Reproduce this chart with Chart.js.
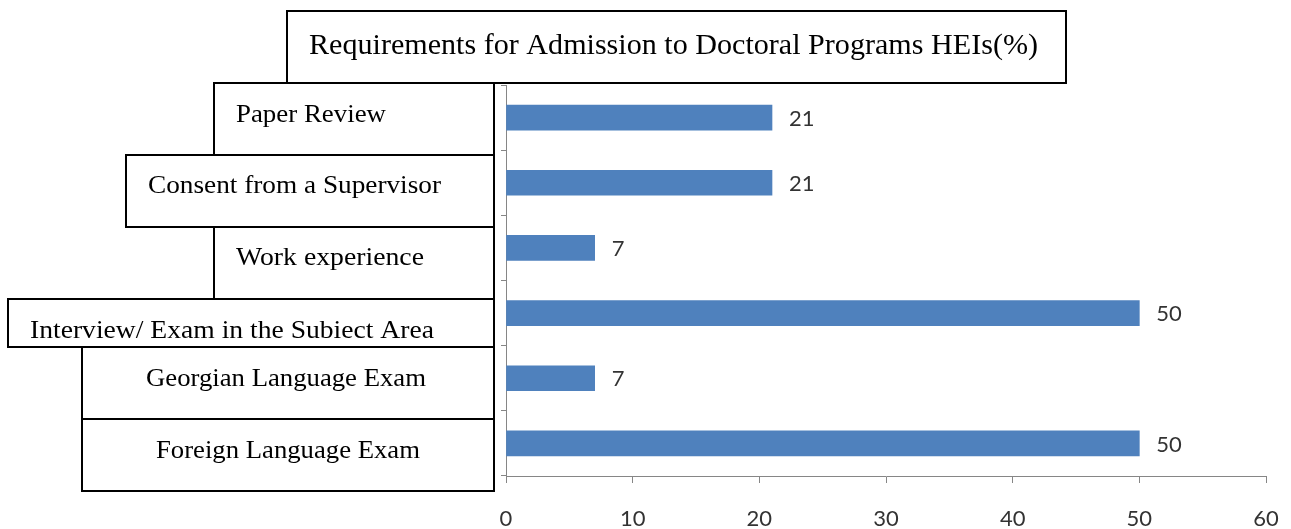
<!DOCTYPE html>
<html>
<head>
<meta charset="utf-8">
<script src="https://cdn.jsdelivr.net/npm/chart.js@4.4.1/dist/chart.umd.min.js"></script>
<style>
  html, body { margin: 0; padding: 0; background: #ffffff; }
  #wrap { width: 1291px; height: 529px; }
</style>
</head>
<body>
<div id="wrap"><canvas id="c" width="1291" height="529"></canvas></div>
<script>
// ---- data ----
const TITLE = 'Requirements for Admission to Doctoral Programs HEIs(%)';
const categories = [
  'Paper Review',
  'Consent from a Supervisor',
  'Work experience',
  'Interview/ Exam in the Subiect Area',
  'Georgian Language Exam',
  'Foreign Language Exam'
];
const values = [21, 21, 7, 50, 7, 50];
const xTickValues = [0, 10, 20, 30, 40, 50, 60];

// ---- layout of the boxed labels (decoration, not data) ----
const titleBox = { x0: 287, y0: 11, x1: 1066, y1: 83, tx0: 309, tx1: 1038, base: 54, size: 30 };
const labelBoxes = [
  { x0: 214, y0: 83,  x1: 494, y1: 155, tx0: 236, tx1: 386, base: 122 },
  { x0: 126, y0: 155, x1: 494, y1: 227, tx0: 148, tx1: 441, base: 193 },
  { x0: 214, y0: 227, x1: 494, y1: 299, tx0: 236, tx1: 424, base: 265 },
  { x0: 8,   y0: 299, x1: 494, y1: 347, tx0: 30,  tx1: 434, base: 338 },
  { x0: 82,  y0: 347, x1: 494, y1: 419, tx0: 146, tx1: 426, base: 386 },
  { x0: 82,  y0: 419, x1: 494, y1: 491, tx0: 156, tx1: 420, base: 458 }
];
const SERIF = '"Liberation Serif", "DejaVu Serif", serif';
const SANS = 'Lato, "Open Sans", "Liberation Sans", sans-serif';
const AXIS_GREY = '#868686';
const TEXT_GREY = '#333333';

function fitText(ctx, text, x0, x1, base, size) {
  ctx.save();
  ctx.font = size + 'px ' + SERIF;
  ctx.fillStyle = '#000000';
  ctx.textAlign = 'left';
  ctx.textBaseline = 'alphabetic';
  const w = ctx.measureText(text).width;
  const sx = (x1 - x0) / w;
  ctx.translate(x0, base);
  ctx.scale(sx, 1);
  ctx.fillText(text, 0, 0);
  ctx.restore();
}

const boxesPlugin = {
  id: 'boxes',
  afterDraw(chart) {
    const ctx = chart.ctx;
    ctx.save();
    ctx.strokeStyle = '#000000';
    ctx.lineWidth = 2;
    const all = [titleBox].concat(labelBoxes);
    all.forEach(b => {
      ctx.strokeRect(b.x0, b.y0, b.x1 - b.x0, b.y1 - b.y0);
    });
    ctx.restore();
    fitText(ctx, TITLE, titleBox.tx0, titleBox.tx1, titleBox.base, titleBox.size);
    labelBoxes.forEach((b, i) => {
      fitText(ctx, categories[i], b.tx0, b.tx1, b.base, 25);
    });
  }
};

const valueLabels = {
  id: 'valueLabels',
  afterDatasetsDraw(chart) {
    const ctx = chart.ctx;
    const meta = chart.getDatasetMeta(0);
    ctx.save();
    ctx.font = '22px ' + SANS;
    ctx.fillStyle = TEXT_GREY;
    ctx.textAlign = 'left';
    ctx.textBaseline = 'middle';
    meta.data.forEach((bar, i) => {
      ctx.fillText(String(values[i]), bar.x + 17, bar.y + 1);
    });
    ctx.restore();
  }
};

new Chart(document.getElementById('c'), {
  type: 'bar',
  data: {
    labels: categories,
    datasets: [{
      data: values,
      backgroundColor: '#4F81BD',
      borderWidth: 0,
      barThickness: 25
    }]
  },
  options: {
    indexAxis: 'y',
    responsive: false,
    animation: false,
    devicePixelRatio: 1,
    layout: { padding: { left: 501, right: 25, top: 85, bottom: 0 } },
    plugins: {
      legend: { display: false },
      title: { display: false },
      tooltip: { enabled: false }
    },
    scales: {
      x: {
        type: 'linear',
        min: xTickValues[0],
        max: xTickValues[xTickValues.length - 1],
        afterBuildTicks(scale) { scale.ticks = xTickValues.map(v => ({ value: v })); },
        afterFit(scale) { scale.height = 53; scale.paddingRight = 0; scale.paddingLeft = 0; },
        grid: { drawOnChartArea: false, drawTicks: true, tickLength: 7, color: AXIS_GREY, lineWidth: 1 },
        border: { display: true, color: AXIS_GREY, width: 1 },
        ticks: { color: TEXT_GREY, font: { family: SANS, size: 22 }, padding: 23, maxRotation: 0 }
      },
      y: {
        type: 'category',
        offset: true,
        grid: { drawOnChartArea: false, drawTicks: true, tickLength: 5, offset: true, color: AXIS_GREY, lineWidth: 1 },
        border: { display: true, color: AXIS_GREY, width: 1 },
        ticks: { display: false }
      }
    }
  },
  plugins: [boxesPlugin, valueLabels]
});
</script>
</body>
</html>
